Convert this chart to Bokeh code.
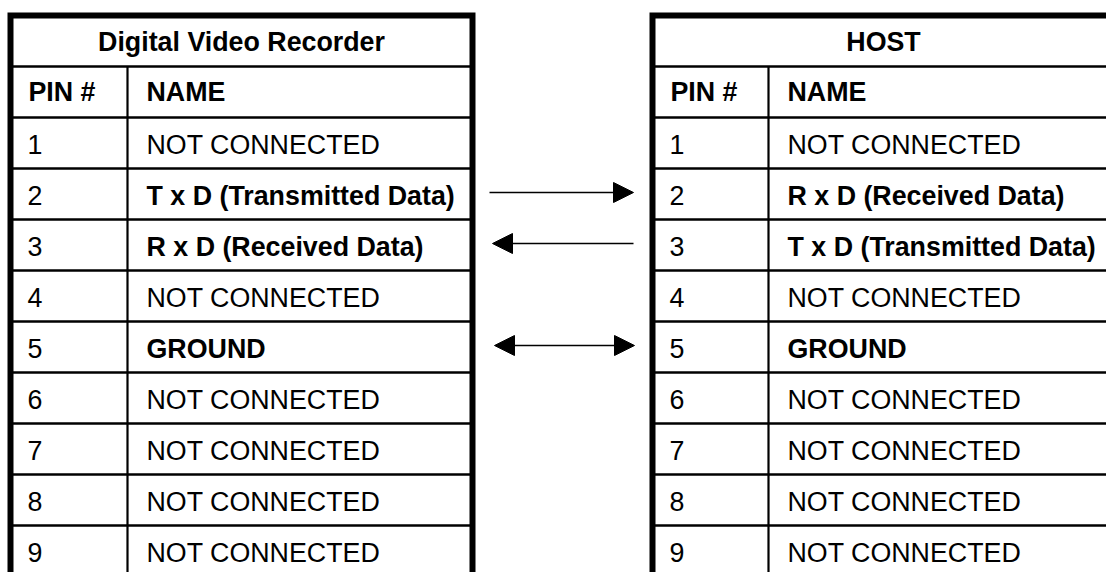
from bokeh.plotting import figure
from bokeh.models import Arrow, NormalHead, Range1d, ColumnDataSource
from bokeh.core.properties import value
from bokeh.embed import file_html
from bokeh.resources import INLINE

# ---- data ----
table_titles = ["Digital Video Recorder", "HOST"]
header_labels = ["PIN #", "NAME"]
pins = ["1", "2", "3", "4", "5", "6", "7", "8", "9"]
dvr_names = ["NOT CONNECTED", "T x D (Transmitted Data)", "R x D (Received Data)",
             "NOT CONNECTED", "GROUND", "NOT CONNECTED", "NOT CONNECTED",
             "NOT CONNECTED", "NOT CONNECTED"]
host_names = ["NOT CONNECTED", "R x D (Received Data)", "T x D (Transmitted Data)",
              "NOT CONNECTED", "GROUND", "NOT CONNECTED", "NOT CONNECTED",
              "NOT CONNECTED", "NOT CONNECTED"]
bold_pins = ["2", "3", "5"]
arrow_pins = ["2", "3", "5"]
arrow_dirs = ["right", "left", "both"]

# ---- layout (pixel coordinates) ----
W, H = 1106, 572
TABLE_X = [10, 652]
TABLE_W = 462
PIN_W = 117
TOP = 15
TITLE_H = 51
ROW_H = 51
FONT = value("Liberation Sans")
FS = "26.8px"
SHIFT = 8.5

p = figure(width=W, height=H, x_range=Range1d(0, W), y_range=Range1d(H, 0),
           output_backend="svg", toolbar_location=None, min_border=0,
           x_axis_location=None, y_axis_location=None)
p.grid.visible = False
p.outline_line_color = None
p.background_fill_color = "white"
p.border_fill_color = "white"

n_rows = len(pins) + 1  # header + pins
row_tops = [TOP + TITLE_H + i * ROW_H for i in range(n_rows)]
bottom = row_tops[-1] + ROW_H + 40

norm = {"x": [], "y": [], "t": []}
bold = {"x": [], "y": [], "t": []}
ctr = {"x": [], "y": [], "t": []}

for ti, (x0, names) in enumerate(zip(TABLE_X, [dvr_names, host_names])):
    x1 = x0 + TABLE_W
    xd = x0 + PIN_W + (0 if ti == 0 else -1)
    hy = row_tops
    p.segment(x0=[x0] * len(hy), x1=[x1] * len(hy), y0=hy, y1=hy,
              line_color="black", line_width=2.5)
    p.segment(x0=[xd], x1=[xd], y0=[row_tops[0]], y1=[bottom],
              line_color="black", line_width=2.2)
    p.line(x=[x0, x0, x1, x1], y=[bottom, TOP, TOP, bottom],
           line_color="black", line_width=6, line_join="miter")
    ctr["x"].append(x0 + TABLE_W / 2)
    ctr["y"].append(TOP + 35 - SHIFT)
    ctr["t"].append(table_titles[ti])
    bold["x"] += [x0 + 18, xd + 19]
    bold["y"] += [row_tops[0] + 34 - SHIFT] * 2
    bold["t"] += header_labels
    for i, (pin, nm) in enumerate(zip(pins, names)):
        yb = row_tops[i + 1] + 35.5 - SHIFT
        norm["x"].append(x0 + 17)
        norm["y"].append(yb)
        norm["t"].append(pin)
        d = bold if pin in bold_pins else norm
        d["x"].append(xd + 19)
        d["y"].append(yb)
        d["t"].append(nm)

p.text(x="x", y="y", text="t", source=ColumnDataSource(norm), text_font=FONT,
       text_font_size=FS, text_baseline="alphabetic", text_align="left", text_color="black")
p.text(x="x", y="y", text="t", source=ColumnDataSource(bold), text_font=FONT,
       text_font_size=FS, text_font_style="bold", text_baseline="alphabetic",
       text_align="left", text_color="black")
p.text(x="x", y="y", text="t", source=ColumnDataSource(ctr), text_font=FONT,
       text_font_size=FS, text_font_style="bold", text_baseline="alphabetic",
       text_align="center", text_color="black")

AX_L = TABLE_X[0] + TABLE_W + 20
AX_R = TABLE_X[1] - 19
for pin, d in zip(arrow_pins, arrow_dirs):
    i = pins.index(pin)
    y = row_tops[i + 1] + ROW_H / 2 - 1.5
    head = lambda: NormalHead(size=20, fill_color="black", line_color="black", line_width=1)
    if d == "right":
        a = Arrow(start=None, end=head(), x_start=AX_L - 3, y_start=y, x_end=AX_R, y_end=y)
    elif d == "left":
        a = Arrow(start=None, end=head(), x_start=AX_R, y_start=y, x_end=AX_L, y_end=y)
    else:
        a = Arrow(start=head(), end=head(), x_start=AX_L + 2, y_start=y, x_end=AX_R + 1, y_end=y)
    a.line_color = "black"
    a.line_width = 1.6
    p.add_layout(a)

open("out.html", "w").write(file_html(p, INLINE))
